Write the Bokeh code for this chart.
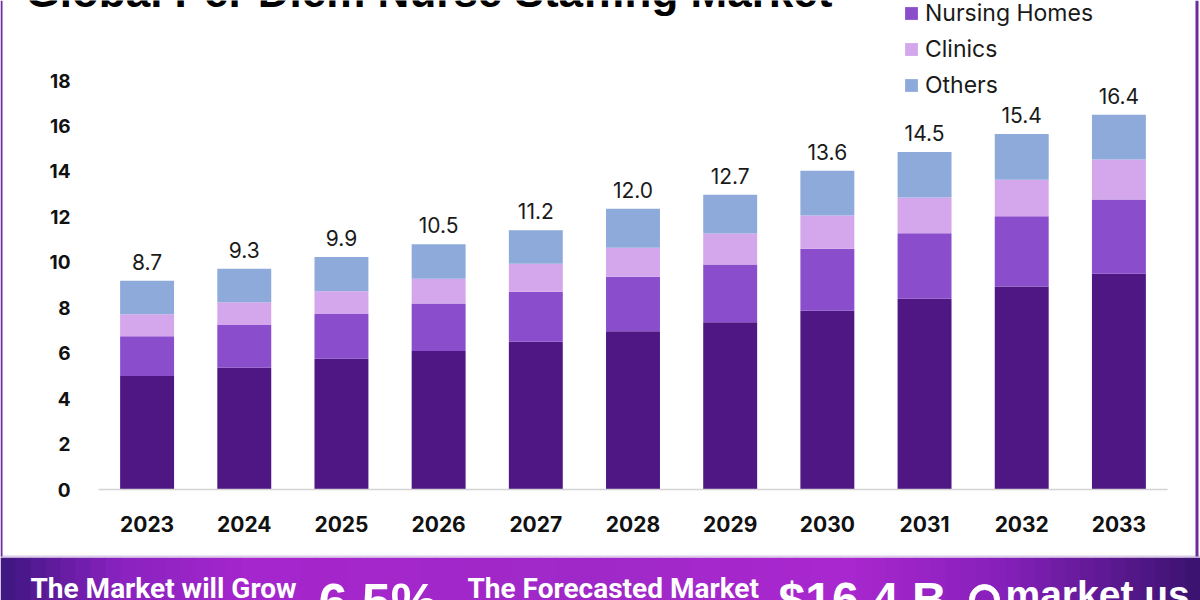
from bokeh.plotting import figure
from bokeh.models import (Range1d, ColumnDataSource, Legend, LegendItem, FixedTicker, LinearAxis)
from bokeh.embed import file_html
from bokeh.resources import INLINE
from bokeh.core.properties import value

# ---------------- data ----------------
years = ["2023", "2024", "2025", "2026", "2027", "2028", "2029", "2030", "2031", "2032", "2033"]
hospitals = [5.00, 5.36, 5.75, 6.09, 6.50, 6.97, 7.36, 7.87, 8.40, 8.93, 9.50]
nursing_homes = [1.75, 1.88, 1.97, 2.10, 2.20, 2.39, 2.54, 2.72, 2.88, 3.10, 3.26]
clinics = [0.96, 1.00, 1.01, 1.08, 1.23, 1.28, 1.37, 1.47, 1.57, 1.60, 1.76]
others = [1.48, 1.47, 1.50, 1.52, 1.48, 1.72, 1.70, 1.97, 2.00, 2.01, 1.97]
total_labels = ["8.7", "9.3", "9.9", "10.5", "11.2", "12.0", "12.7", "13.6", "14.5", "15.4", "16.4"]
segment_names = ["Hospitals", "Nursing Homes", "Clinics", "Others"]
y_ticks = [0, 2, 4, 6, 8, 10, 12, 14, 16, 18]

title_text = "Global Per Diem Nurse Staffing Market"
banner_grow = "The Market will Grow"
banner_cagr = "6.5%"
banner_forecast = "The Forecasted Market"
banner_value = "$16.4 B"
banner_brand = "market.us"

colors = ["#4f1784", "#8a4dcc", "#d4a6ec", "#8eaadb"]

xi = list(range(len(years)))
tops = [a + b + c + d for a, b, c, d in zip(hospitals, nursing_homes, clinics, others)]
src = ColumnDataSource(dict(xi=xi, year=years, Hospitals=hospitals,
                            **{"Nursing Homes": nursing_homes},
                            Clinics=clinics, Others=others, top=tops, label=total_labels))

FONT = "Inter"

# ---------------- layout geometry (page pixels) ----------------
W, H = 1200, 600
PLOT_L, PLOT_R, BASE_Y, TOP18_Y = 98, 1167, 489, 80
px_per_cat = (PLOT_R - PLOT_L) / len(years)
px_per_unit = (BASE_Y - TOP18_Y) / 18.0
x0 = -0.5 - PLOT_L / px_per_cat
x1 = x0 + W / px_per_cat
y1 = BASE_Y / px_per_unit
y0 = y1 - H / px_per_unit

def X(px):
    return x0 + px / px_per_cat

def Y(py):
    return y1 - py / px_per_unit

p = figure(width=W, height=H, x_range=Range1d(x0, x1), y_range=Range1d(y0, y1),
           x_axis_type=None, y_axis_type=None, output_backend="svg", toolbar_location=None,
           min_border=0)
p.outline_line_color = None
p.grid.visible = False
p.background_fill_color = "white"
p.border_fill_color = "white"

# ---------------- banner / card decorations ----------------
stops = [(0, (0x3d, 0x16, 0x80)), (120, (0x8a, 0x22, 0xc0)), (250, (0xa5, 0x26, 0xcc)),
         (600, (0xa0, 0x28, 0xc8)), (850, (0xa9, 0x27, 0xcf)), (1000, (0x86, 0x20, 0xbb)),
         (1200, (0x3a, 0x12, 0x6e))]

def grad(x):
    for (xa, ca), (xb, cb) in zip(stops[:-1], stops[1:]):
        if xa <= x <= xb:
            t = (x - xa) / (xb - xa)
            return "#%02x%02x%02x" % tuple(int(round(a + (b - a) * t)) for a, b in zip(ca, cb))
    return "#%02x%02x%02x" % stops[-1][1]

n = 80
sw = W / n
lefts = [i * sw for i in range(n)]
p.quad(left=[X(l) for l in lefts], right=[X(l + sw + 0.6) for l in lefts],
       top=Y(557), bottom=Y(H), color=[grad(l + sw / 2) for l in lefts], line_color=None)
p.quad(left=[X(0)], right=[X(W)], top=[Y(555)], bottom=[Y(557)], color="#dccbe9", line_color=None)
p.quad(left=[X(0), X(1195)], right=[X(2), X(1198)], top=Y(0), bottom=Y(556),
       color="#6b2d9c", line_color=None)

SHIFT = 0.35  # renderer places the alphabetic baseline ~0.35em lower; compensate

def btext(x, ybase, text, font, size, color="white"):
    p.text(x=[X(x)], y=[Y(ybase - SHIFT * size)], text=[text], text_font=value(font),
           text_font_style="bold", text_font_size=f"{size}px", text_color=color,
           text_baseline="alphabetic")

btext(30, 598, banner_grow, "Roboto", 28)
btext(318, 620, banner_cagr, "Liberation Sans", 52)
btext(467, 598, banner_forecast, "Roboto", 28)
btext(778, 616, banner_value, "Liberation Sans", 48)
btext(1005, 608, banner_brand, "Liberation Sans", 39)
p.annulus(x=[X(984)], y=[Y(599)], inner_radius=10, outer_radius=15, inner_radius_units="screen",
          outer_radius_units="screen", color="white")

# title (cut off by the top edge, as in the reference)
btext(25, 6, title_text, "Liberation Sans", 44, color="black")

# ---------------- bars ----------------
rs = p.vbar_stack(segment_names, x="xi", width=0.555, color=colors, line_color=None, source=src)

p.text(x="xi", y="top", text="label", source=src, text_align="center", text_baseline="bottom",
       y_offset=-11, text_font=value(FONT), text_font_size="21px", text_color="#1a1a1a")

# ---------------- axes ----------------
xaxis = LinearAxis(fixed_location=0, bounds=(-0.5, len(years) - 0.5),
                   ticker=FixedTicker(ticks=xi),
                   major_label_overrides={i: y for i, y in zip(xi, years)})
xaxis.axis_line_color = "#d3d3d3"
xaxis.axis_line_width = 1.5
xaxis.major_tick_line_color = None
xaxis.minor_tick_line_color = None
xaxis.major_label_text_font = FONT
xaxis.major_label_text_font_style = "bold"
xaxis.major_label_text_font_size = "21px"
xaxis.major_label_text_color = "#111111"
xaxis.major_label_standoff = 20
p.add_layout(xaxis, "below")

yaxis = LinearAxis(fixed_location=-0.5, ticker=FixedTicker(ticks=y_ticks))
yaxis.axis_line_color = None
yaxis.major_tick_line_color = None
yaxis.minor_tick_line_color = None
yaxis.major_label_text_font = FONT
yaxis.major_label_text_font_style = "bold"
yaxis.major_label_text_font_size = "19px"
yaxis.major_label_text_color = "#111111"
yaxis.major_label_standoff = 22
p.add_layout(yaxis, "left")

# ---------------- legend ----------------
legend = Legend(items=[LegendItem(label=n_, renderers=[r]) for n_, r in zip(segment_names, rs)],
                location=(903, 501), orientation="vertical", glyph_width=16, glyph_height=16,
                label_height=20, label_standoff=6, spacing=8, padding=0, margin=0,
                border_line_color=None, background_fill_alpha=0,
                label_text_font=FONT, label_text_font_size="23px", label_text_color="#1a1a1a")
p.add_layout(legend)

open("out.html", "w").write(file_html(p, INLINE))
